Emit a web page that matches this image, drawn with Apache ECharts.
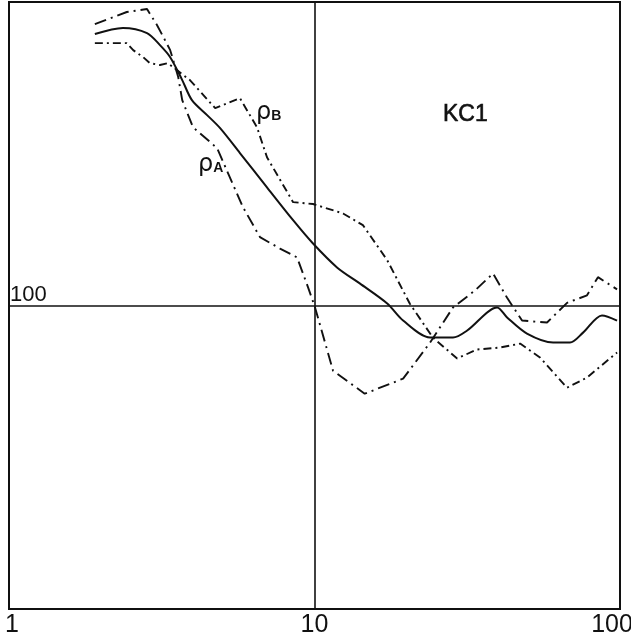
<!DOCTYPE html>
<html>
<head>
<meta charset="utf-8">
<script src="https://cdn.jsdelivr.net/npm/echarts@6/dist/echarts.min.js"></script>
<style>
  html, body { margin: 0; padding: 0; background: #fff; }
  #chart { width: 631px; height: 641px; }
</style>
</head>
<body>
<div id="chart"></div>
<script>
// Log-log sounding curves for station KC1: period (x) against apparent resistivity (y)
const xTickLabels = ['1', '10', '100'];
const yTickLabels = ['100'];

// rho_A curve
const rhoAPeriod = [1.91, 2.43, 2.83, 3.05, 3.24, 3.37, 3.58, 3.69, 4.0, 4.8, 5.21, 5.83, 6.63, 7.71, 8.77, 9.52, 10.04, 11.5, 14.6, 19.5, 23.9, 28.4, 33.5, 38.4, 42.7, 47.8, 57.7, 67.1, 78.0, 84.7, 97.8];
const rhoAValue  = [846, 927, 948, 840, 749, 694, 566, 475, 387, 330, 273, 211, 168, 154, 144, 115, 98.5, 61.0, 51.2, 57.4, 75.5, 98.5, 112, 127.5, 106, 89.2, 87.9, 102, 108, 124, 113];

// rho_B curve
const rhoBPeriod = [1.91, 2.43, 2.55, 2.75, 2.89, 3.12, 3.31, 3.91, 4.73, 5.70, 6.48, 6.99, 8.51, 9.89, 12.4, 14.4, 17.3, 20.5, 24.4, 29.3, 34.0, 40.5, 47.1, 54.7, 67.1, 78.0, 97.8];
const rhoBValue  = [732, 732, 694, 658, 629, 620, 629, 553, 447, 482, 387, 308, 219, 216, 201, 184, 141, 101.5, 78.4, 66.9, 71.6, 72.7, 74.9, 67.4, 53.6, 57.9, 70.0];

// mean curve
const meanPeriod = [1.91, 2.36, 2.83, 3.12, 3.37, 3.69, 3.97, 4.45, 4.91, 5.70, 6.99, 8.51, 9.89, 11.85, 14.1, 17.3, 19.5, 23.9, 28.4, 31.6, 39.6, 42.7, 49.6, 60.4, 68.6, 75.7, 87.3, 97.8];
const meanValue  = [784, 821, 790, 721, 658, 553, 475, 424, 384, 318, 245, 191, 160, 133.5, 118, 101.5, 89.2, 78.4, 78.4, 82.7, 98.5, 91.3, 80.8, 75.5, 75.5, 81.4, 92.7, 89.2];

const zip = (xs, ys) => xs.map((x, i) => [x, ys[i]]);

const INK = '#111';
const SANS = 'Liberation Sans';
const chart = echarts.init(document.getElementById('chart'), null, { renderer: 'canvas' });

const subLabel = (letter) => ({
  text: '{r|ρ}{s|' + letter + '}',
  rich: {
    r: { fontFamily: 'DejaVu Sans', fontSize: 24, fill: INK },
    s: { fontFamily: SANS, fontWeight: 'bold', fontSize: 14, fill: INK, verticalAlign: 'bottom', padding: [0, 0, 2, 0] }
  }
});

chart.setOption({
  animation: false,
  backgroundColor: '#fff',
  title: {
    text: 'KC1',
    left: 438,
    top: 98,
    textStyle: { fontFamily: SANS, fontSize: 23, fontWeight: 'normal', color: INK, textBorderColor: INK, textBorderWidth: 0.6 }
  },
  grid: {
    left: 9, right: 11, top: 2, bottom: 32,
    show: true, borderColor: INK, borderWidth: 2,
    outerBoundsMode: 'none'
  },
  xAxis: {
    type: 'log', logBase: 10, min: 1, max: 100,
    axisLine: { show: false },
    axisTick: { show: false },
    splitLine: { show: true, lineStyle: { color: INK, width: 1.6 } },
    axisLabel: {
      margin: 4,
      showMinLabel: true, showMaxLabel: true,
      color: INK, fontFamily: SANS, fontSize: 25,
      formatter: function (v) {
        const s = xTickLabels.find(t => Number(t) === Math.round(v)) || '';
        if (s === '1') return '{first|' + s + '}';
        if (s === '100') return '{last|' + s + '}';
        return s;
      },
      rich: {
        first: { fontFamily: SANS, fontSize: 25, color: INK, padding: [0, 0, 0, 6] },
        last: { fontFamily: SANS, fontSize: 25, color: INK, padding: [0, 16, 0, 0] }
      }
    }
  },
  yAxis: {
    type: 'log', logBase: 10, min: 10, max: 1000,
    axisLine: { show: false },
    axisTick: { show: false },
    splitLine: { show: true, lineStyle: { color: INK, width: 1.6 } },
    axisLabel: {
      inside: true,
      margin: 1,
      align: 'left',
      verticalAlign: 'bottom',
      color: INK, fontFamily: SANS, fontSize: 22,
      formatter: function (v) {
        return yTickLabels.find(t => Number(t) === Math.round(v)) || '';
      }
    }
  },
  graphic: [
    { type: 'text', left: 198, top: 153, style: subLabel('A') },
    { type: 'text', left: 256, top: 101, style: subLabel('B') }
  ],
  series: [
    {
      name: 'ρA', type: 'line', data: zip(rhoAPeriod, rhoAValue),
      showSymbol: false, smooth: false,
      lineStyle: { color: INK, width: 1.9, type: [12, 5, 2, 5] }
    },
    {
      name: 'ρB', type: 'line', data: zip(rhoBPeriod, rhoBValue),
      showSymbol: false, smooth: false,
      lineStyle: { color: INK, width: 1.9, type: [8, 4, 2, 4] }
    },
    {
      name: 'mean', type: 'line', data: zip(meanPeriod, meanValue),
      showSymbol: false, smooth: 0.3,
      lineStyle: { color: INK, width: 2, type: 'solid' }
    }
  ]
});
</script>
</body>
</html>
